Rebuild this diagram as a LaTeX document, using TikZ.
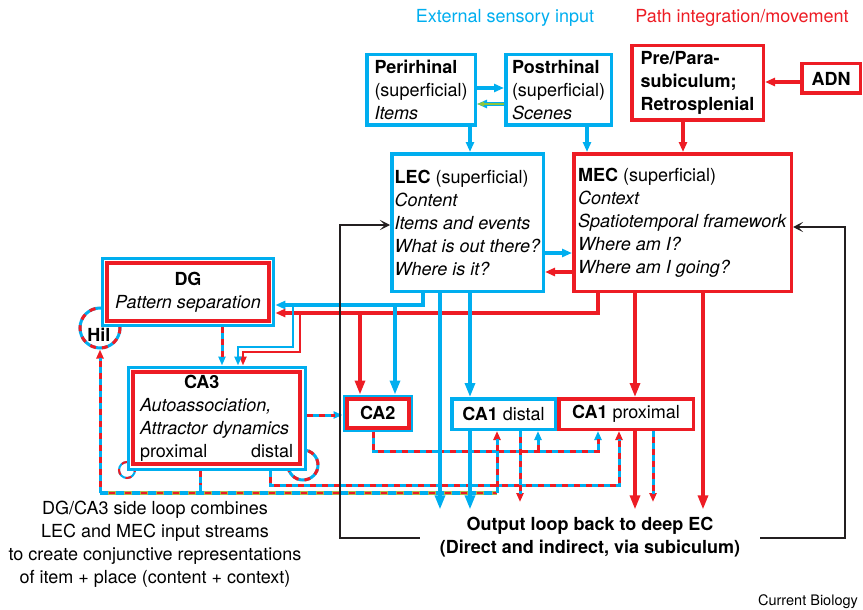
\documentclass[tikz,border=0pt]{standalone}
\usepackage{fontspec}
\setmainfont{TeX Gyre Heros}
\usetikzlibrary{arrows.meta}

\definecolor{ecblue}{RGB}{0,174,239}
\definecolor{ecred}{RGB}{237,28,36}
\definecolor{ecgreen}{RGB}{141,198,63}
\definecolor{ecolive}{RGB}{172,184,74}
\definecolor{ecblack}{RGB}{35,31,32}
\newcommand{\diagfont}{\fontsize{18}{23}\selectfont}

\begin{document}
\begin{tikzpicture}[x=1pt, y=-1pt, font=\diagfont,
    bluebox/.style={draw=ecblue, line width=3.5pt, fill=white, align=left, inner sep=0pt},
    redbox/.style={draw=ecred, line width=3.5pt, fill=white, align=left, inner sep=0pt},
    twinbox/.style={draw=ecred, line width=4pt, fill=white, inner sep=0pt, outer sep=6.5pt,
        preaction={draw=ecblue, line width=13pt}, preaction={draw=white, line width=7pt}},
    bigtip/.style={-{Triangle[length=14pt,width=10pt]}},
    midtip/.style={-{Triangle[length=10pt,width=8pt]}},
    dtip/.style={-{Triangle[length=9pt,width=7pt]}},
    blueline/.style={draw=ecblue, line width=3.2pt},
    redline/.style={draw=ecred, line width=3.2pt},
    mixblue/.style={draw=ecblue, line width=3pt,
        postaction={draw=ecred, arrows=-, dash pattern=on 6pt off 6pt, shorten >=8pt}},
    mixred/.style={draw=ecred, line width=3pt,
        postaction={draw=ecblue, arrows=-, dash pattern=on 6pt off 6pt, shorten >=8pt}},
    loopline/.style={draw=ecblue, line width=3pt,
        postaction={draw=ecred, dash pattern=on 6pt off 6pt}},
    sideline/.style={draw=ecolive, line width=3.5pt,
        postaction={draw=ecblue, dash pattern=on 8pt off 8pt},
        postaction={draw=ecred, line width=1.3pt, dash pattern=on 6pt off 10pt, dash phase=7pt}},
    backarr/.style={draw=ecblack, line width=2pt, -{Stealth[length=10pt,width=10pt,inset=5pt]}}
]
\useasboundingbox (0,0) rectangle (863,610);

% headings
\node[text=ecblue] (senshead) at (505,18) {External sensory input};
\node[text=ecred] (pathhead) at (742,18) {Path integration/movement};

% cortical boxes
\node[bluebox, minimum width=108.5pt, minimum height=70.5pt] (peri) at (421,90)
    {\textbf{Perirhinal}\\(superficial)\\\textit{Items}};
\node[bluebox, minimum width=105.5pt, minimum height=70.5pt] (postr) at (558.5,90)
    {\textbf{Postrhinal}\\(superficial)\\\textit{Scenes}};
\node[redbox, minimum width=131.5pt, minimum height=74.5pt] (prepara) at (697.5,83)
    {\textbf{Pre/Para-}\\\textbf{subiculum;}\\\textbf{Retrosplenial}};
\node[redbox, minimum width=58.5pt, minimum height=29.5pt] (adn) at (831,78.5) {\textbf{ADN}};
\node[bluebox, minimum width=151.5pt, minimum height=137.5pt] (lec) at (467.5,222.5)
    {\textbf{LEC} (superficial)\\\textit{Content}\\\textit{Items and events}\\\textit{What is out there?}\\\textit{Where is it?}};
\node[redbox, minimum width=217.5pt, minimum height=137.5pt] (mec) at (682.5,222.5)
    {\textbf{MEC} (superficial)\\\textit{Context}\\\textit{Spatiotemporal framework}\\\textit{Where am I?}\\\textit{Where am I going?}};

% recurrent loops (behind the boxes)
\node[circle, loopline, minimum size=40pt, inner sep=0pt] (hil) at (100,328) {};
\draw[loopline, line width=2pt] (127,470) circle (8pt);
\draw[loopline] (303,465) circle (15pt);

% hippocampal boxes
\node[twinbox, align=center, minimum width=161.7pt, minimum height=57.2pt] (dg) at (188,292)
    {\textbf{DG}\\\textit{Pattern separation}};
\node[twinbox, align=left, text width=153pt, minimum width=167pt, minimum height=92pt] (ca3) at (216.5,418)
    {\hspace*{44pt}\textbf{CA3}\\\textit{Autoassociation,}\\\textit{Attractor dynamics}\\proximal\hfill distal};
\node[draw=ecred, line width=4pt, fill=white, inner sep=0pt, outer sep=4pt,
    preaction={draw=ecblue, line width=8pt}, minimum width=62.5pt, minimum height=29pt] (ca2) at (377.75,413) {\textbf{CA2}};
\node[bluebox, align=center, minimum width=103.5pt, minimum height=30.5pt] (ca1d) at (503.5,414) {\textbf{CA1} distal};
\node[redbox, align=center, minimum width=134.5pt, minimum height=30.5pt] (ca1p) at (626,414) {\textbf{CA1} proximal};
\node[font=\diagfont\bfseries] (hiltext) at (99,335) {Hil};

% texts
\node[font=\diagfont\bfseries, align=center, inner xsep=20pt, inner ysep=8pt] (out) at (590,537.5)
    {Output loop back to deep EC\\(Direct and indirect, via subiculum)};
\node[align=center] (sidenote) at (155,544.5)
    {DG/CA3 side loop combines\\LEC and MEC input streams\\to create conjunctive representations\\of item + place (content + context)};
\node[font=\fontsize{14.5}{17}\selectfont] (journal) at (808,602) {Current Biology};
\coordinate (ecdash) at (0,502);

% dashed hippocampal paths
\draw[mixblue, dtip] (dg.south -| 222,0) -- (ca3.north -| 222,0);
\draw[mixblue, dtip] (ca3.east |- 0,415) -- (ca2.west |- 0,415);
\draw[mixblue, dtip] (ca2.south -| 373,0) |- (598,451) -- (ca1p.south -| 598,0);
\draw[mixblue, dtip] (538,451) -- (ca1d.south -| 538,0);
\draw[mixred, dtip] (ca3.south -| 270,0) |- (619,485) -- (ca1p.south -| 619,0);
\draw[mixblue] (ca3.south -| 200,0) -- (200,493);
\draw[sideline] (100,493) -- (497,493);
\draw[mixred, dtip] (100,493) -- (hil.south);
\draw[mixred, dtip] (497,493) -- (ca1d.south -| 497,0);
\foreach \x/\src in {520/ca1d, 653/ca1p}
    \draw[mixred, dtip] (\src.south -| \x,0) -- (ecdash -| \x,0);

% cortical arrows
\draw[blueline, midtip] (peri.east |- 0,88) -- (postr.west |- 0,88);
\draw[blueline, line width=3.5pt, midtip] (postr.west |- 0,104) -- (peri.east |- 0,104);
\draw[draw=ecgreen, line width=1.4pt, -{Triangle[length=7pt,width=4.5pt]}] (postr.west |- 0,104) -- (peri.east |- 0,104);
\draw[blueline, midtip] (peri.south -| 470,0) -- (lec.north -| 470,0);
\draw[blueline, midtip] (postr.south -| 587,0) -- (mec.north -| 587,0);
\draw[redline, midtip] (prepara.south -| 683,0) -- (mec.north -| 683,0);
\draw[redline, midtip] (adn.west |- 0,82) -- (prepara.east |- 0,82);
\draw[blueline, midtip] (lec.east |- 0,253) -- (mec.west |- 0,253);
\draw[redline, midtip] (mec.west |- 0,272) -- (lec.east |- 0,272);

% MEC stream (red)
\draw[redline, midtip] (mec.south -| 598,0) |- (dg.east |- 0,313);
\draw[redline, bigtip] (360,313) -- (ca2.north -| 360,0);
\draw[redline, line width=2.8pt, dtip] (300,313) |- (243,352) -- (ca3.north -| 243,0);
\draw[redline, bigtip] (mec.south -| 635,0) -- (ca1p.north -| 635,0);

% LEC stream (blue)
\draw[blueline, midtip] (lec.south -| 423,0) |- (dg.east |- 0,305);
\draw[blueline, bigtip] (395,305) -- (ca2.north -| 395,0);
\draw[blueline, line width=2.8pt, dtip] (293,305) |- (238,347) -- (ca3.north -| 238,0);
\draw[blueline, bigtip] (lec.south -| 470,0) -- (ca1d.north -| 470,0);

% into the output loop
\foreach \x/\src/\col in {440/lec/ecblue, 470/ca1d/ecblue, 635/ca1p/ecred, 703/mec/ecred}
    \draw[draw=\col, line width=3.2pt, bigtip] (\src.south -| \x,0) -- (out.north -| \x,0);

% back to superficial EC
\draw[backarr] (out.west) -| (340,225) -- (lec.west |- 0,225);
\draw[backarr] (out.east) -| (845,227) -- (mec.east |- 0,227);
\end{tikzpicture}
\end{document}
